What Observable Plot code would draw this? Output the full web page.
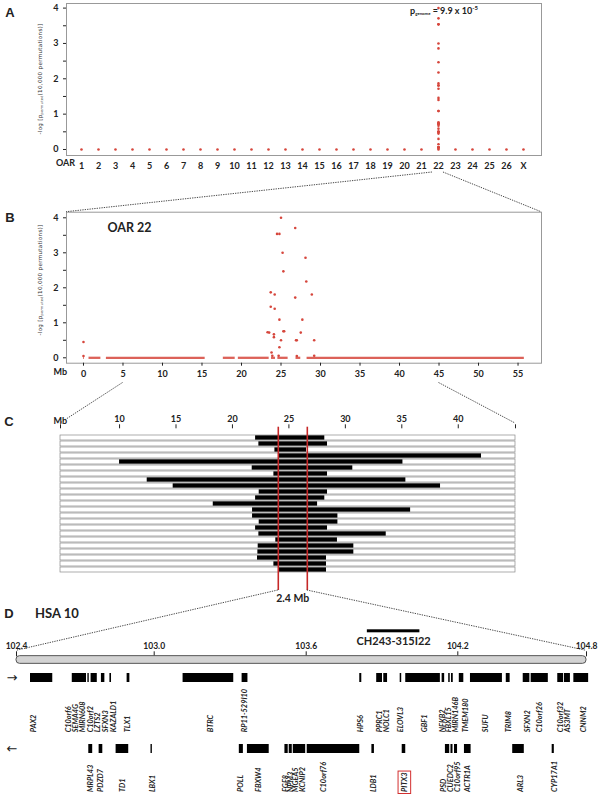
<!DOCTYPE html>
<html><head><meta charset="utf-8">
<script src="https://cdn.jsdelivr.net/npm/d3@7"></script>
<script src="https://cdn.jsdelivr.net/npm/@observablehq/plot@0.6"></script>
<style>
body{margin:0;background:#fff;}
#wrap{position:relative;width:601px;height:796px;overflow:hidden;background:#fff;}
#wrap > svg{position:absolute;left:0;}
</style></head><body><div id="wrap"></div>
<script>
// ---------------- DATA ----------------
const chromosomes = ["1","2","3","4","5","6","7","8","9","10","11","12","13","14","15","16","17","18","19","20","21","22","23","24","25","26","X"];
const peakChromosome = "22";
const pGenomeMantissa = "9.9", pGenomeExponent = "-5";
// OAR22 association points: [position Mb, -log p]
const oar22Points = [
[0.0,0.45],[0.0,0.05],
[23.3,0.73],[23.5,0.72],[23.7,1.87],[23.7,1.46],[23.8,0.15],[23.9,0.06],[24.1,0.67],[24.1,0.59],
[24.2,1.81],[24.2,1.40],[24.5,3.54],[24.7,0.06],[24.8,3.54],[24.8,1.09],[24.8,0.30],[25.0,4.0],
[25.0,0.50],[25.2,3.0],[25.3,2.47],[25.3,0.76],[25.4,0.76],[26.8,3.71],[26.8,1.72],[26.9,0.50],
[27.0,0.50],[27.0,0.05],[27.5,0.72],[27.7,1.09],[28.1,2.86],[28.2,2.18],[28.9,1.81],[29.2,0.50],[29.2,0.06]
];
// runs of markers with -log p = 0 : [from Mb, to Mb]
const zeroRuns = [[0,0.1],[0.7,2.2],[2.9,15.4],[17.7,19.2],[19.6,23.5],[23.8,24.3],[24.6,25.9],[26.9,27.5],[28.3,55.8]];
const oarTicksY = [0,0.5,1,1.5,2,2.5,3,3.5,4];
const oar22TicksX = [0,5,10,15,20,25,30,35,40,45,50,55];
// haplotypes: shared segment [start Mb, end Mb]
const haplotypes = [
[22.05,28.18],[22.34,28.42],[23.76,26.56],[24.1,42.06],[10.0,35.1],[21.75,30.66],[23.67,28.42],[12.45,35.36],
[14.75,38.43],[22.37,28.42],[22.05,28.18],[18.3,27.54],[21.78,35.78],[21.78,29.34],[22.37,29.34],[22.05,28.42],
[22.34,33.62],[23.84,29.3],[22.28,30.75],[22.25,30.75],[22.22,28.33],[23.67,28.33],[24.1,28.33]
];
const haploRange = [4.77,45.07];
const haploTicks = [10,15,20,25,30,35,40];
const criticalInterval = [24.06,26.63];
const intervalLabel = "2.4 Mb";
// HSA10
const hsaTicks = [102.4,103.0,103.6,104.2,104.8];
const hsaTickPx = [16,153.7,305.7,457.3,586];
const cloneName = "CH243-315I22";
const cloneSpan = [103.842,104.050];
const fwdGenes = [
[102.461,102.558],[102.643,102.705],[102.711,102.717],[102.725,102.752],[102.770,102.785],[102.807,102.814],
[102.882,102.894],[103.114,103.314],[103.347,103.370],[103.812,103.820],[103.879,103.902],[103.907,103.922],
[103.972,103.978],[103.994,104.131],[104.138,104.148],[104.164,104.170],[104.175,104.182],[104.207,104.228],
[104.259,104.408],[104.426,104.444],[104.505,104.536],[104.542,104.622],[104.666,104.693],[104.697,104.725],[104.741,104.810]
];
const revGenes = [
[102.715,102.732],[102.760,102.776],[102.834,102.889],[102.986,102.992],[103.336,103.352],[103.368,103.454],
[103.516,103.529],[103.533,103.545],[103.549,103.598],[103.604,103.812],[103.860,103.870],[103.980,103.994],
[104.151,104.168],[104.173,104.181],[104.187,104.199],[104.231,104.262],[104.456,104.510],[104.640,104.650]
];
const fwdLabels = [["PAX2",102.475],["C10orf6",102.628],["SEMA4G",102.657],["MIRN608",102.686],["C10orf2",102.722],
["LZTS2",102.754],["SFXN3",102.788],["KAZALD1",102.824],["TLX1",102.885],["BTRC",103.222],["RP11-529I10",103.358],
["HPS6",103.815],["PPRC1",103.890],["NOLC1",103.917],["ELOVL3",103.973],["GBF1",104.068],["NFKB2",104.138],
["FBXL15",104.164],["MIRN146B",104.192],["TMEM180",104.236],["SUFU",104.329],["TRIM8",104.438],["SFXN2",104.524],
["C10orf26",104.582],["C10orf32",104.679],["AS3MT",104.713],["CNNM2",104.785]];
const revLabels = [["MRPL43",102.722],["PDZD7",102.766],["TD1",102.861],["LBX1",102.991],["POLL",103.343],
["FBXW4",103.411],["FGF8",103.518],["NPM3",103.538],["MGEA5",103.558],["KCNIP2",103.584],["C10orf76",103.670],
["LDB1",103.867],["PITX3",103.989],["PSD",104.145],["CUEDC2",104.171],["C10orf95",104.198],["ACTR1A",104.247],
["ARL3",104.492],["CYP17A1",104.651]];
const highlightedGene = "PITX3";

// ---------------- LAYOUT ----------------
const red = "#d6463c";
const lineRed = "#c62828";
const W = 601;
const baseStyle = "background:transparent;overflow:visible;font-family:Lato,'Open Sans',sans-serif;font-size:9px;font-weight:bold;color:#222;max-width:none;";
const wrap = document.getElementById("wrap");
function place(svg, top){ svg.style.position="absolute"; svg.style.top=top+"px"; svg.style.left="0px"; wrap.appendChild(svg); return svg; }

const A_TOP = 0, B_TOP = 190, C_TOP = 400, D_TOP = 605;

// Panel A
const aData = chromosomes.map((c,i)=>({i:i+1, v:0}))
  .concat(oar22Points.map(d=>({i:chromosomes.indexOf(peakChromosome)+1, v:d[1]})));
const plotA = Plot.plot({
  width:W, height:185, marginLeft:66, marginRight:60, marginTop:3, marginBottom:30,
  style: baseStyle,
  x:{type:"linear", domain:[0.118,28.06]},
  y:{type:"linear", domain:[-0.17,4.13]},
  marks:[
    Plot.frame({stroke:"#999"}),
    Plot.axisX({ticks:d3.range(1,chromosomes.length+1), tickFormat:i=>chromosomes[i-1], tickSize:0, tickPadding:7, label:null}),
    Plot.axisY({ticks:oarTicksY, tickFormat:d=>d%1===0?d:"", tickSize:3, tickPadding:5, label:null}),
    Plot.text(["OAR"], {frameAnchor:"bottom-left", dx:-10.5, dy:10}),
    Plot.dot(aData, {x:"i", y:"v", r:1.3, fill:red, stroke:null})
  ]
});
place(plotA, A_TOP);

// Panel B
const plotB = Plot.plot({
  width:W, height:200, marginLeft:66, marginRight:60, marginTop:21.7, marginBottom:27.3,
  style: baseStyle,
  x:{type:"linear", domain:[-2.15,57.97]},
  y:{type:"linear", domain:[-0.154,4.16]},
  marks:[
    Plot.frame({stroke:"#999"}),
    Plot.axisX({ticks:oar22TicksX, tickSize:3, tickPadding:4, label:null}),
    Plot.axisY({ticks:oarTicksY, tickFormat:d=>d%1===0?d:"", tickSize:3, tickPadding:5, label:null}),
    Plot.ruleY(zeroRuns, {x1:d=>d[0], x2:d=>d[1], y:0, stroke:red, strokeWidth:2.3, strokeOpacity:0.85}),
    Plot.dot(oar22Points, {x:d=>d[0], y:d=>d[1], r:1.3, fill:red, stroke:null}),
    Plot.text(["OAR " + peakChromosome], {frameAnchor:"top-left", dx:41, dy:11, textAnchor:"start", fontSize:12.5, fontWeight:"bold"}),
    Plot.text(["Mb"], {frameAnchor:"bottom-left", dx:-13, dy:11.3})
  ]
});
place(plotB, B_TOP);

// Panel C
const rows = haplotypes.map((d,i)=>({row:i+1, start:d[0], end:d[1]}));
const plotC = Plot.plot({
  width:W, height:210, marginLeft:60, marginRight:86, marginTop:27.3, marginBottom:29.7,
  style: baseStyle,
  x:{type:"linear", domain:haploRange},
  y:{type:"band", domain:rows.map(d=>d.row), paddingInner:0.15, paddingOuter:0.08, axis:null},
  marks:[
    Plot.axisX({anchor:"top", ticks:haploTicks, tickSize:4, tickPadding:2, label:null}),
    Plot.axisX({anchor:"top", ticks:haploRange, tickFormat:()=>"", tickSize:4, label:null}),
    Plot.barX(rows, {x1:()=>haploRange[0], x2:()=>haploRange[1], y:"row", fill:"white", stroke:"#8a8a8a", strokeWidth:0.7}),
    Plot.barX(rows, {x1:"start", x2:"end", y:"row", fill:"black", insetTop:0.35, insetBottom:0.35}),
    Plot.ruleX(criticalInterval, {stroke:lineRed, strokeWidth:1.6, insetTop:-0.6, insetBottom:-9.7}),
    Plot.text([intervalLabel], {x:()=>(criticalInterval[0]+criticalInterval[1])/2, frameAnchor:"bottom", dy:20.7, fontSize:10.5, fontWeight:"bold"}),
    Plot.text(["Mb"], {frameAnchor:"top-left", dx:-7, dy:-10})
  ]
});
place(plotC, C_TOP);

// Panel D
const fwd = fwdGenes.map(d=>({s:d[0], e:d[1]}));
const rev = revGenes.map(d=>({s:d[0], e:d[1]}));
const plotD = Plot.plot({
  width:W, height:191, marginLeft:16, marginRight:15, marginTop:50.3, marginBottom:0,
  style: baseStyle,
  x:{type:"linear", domain:hsaTicks, range:hsaTickPx},
  y:{type:"band", domain:["fwd","rev"], range:[68.3,148.3], paddingInner:0.878, paddingOuter:0, axis:null},
  marks:[
    Plot.axisX({anchor:"top", ticks:hsaTicks, tickFormat:d=>d.toFixed(1), tickSize:5, tickPadding:2, label:null, fontSize:8.5}),
    Plot.barX([hsaTicks], {x1:d=>d[0], x2:d=>d[d.length-1], y:()=>"fwd", dy:-18, insetTop:0.65, insetBottom:0.65, fill:"#d3d3d3", stroke:"#555", strokeWidth:1, rx:3.5}),
    Plot.barX([cloneSpan], {x1:d=>d[0], x2:d=>d[1], y:()=>"fwd", dy:-46.7, insetTop:3, insetBottom:3, fill:"black"}),
    Plot.text([cloneName], {x:()=>(cloneSpan[0]+cloneSpan[1])/2, y:()=>"fwd", dy:-37, fontSize:11, fontWeight:"bold"}),
    Plot.barX(fwd, {x1:"s", x2:"e", y:()=>"fwd", fill:"black"}),
    Plot.barX(rev, {x1:"s", x2:"e", y:()=>"rev", fill:"black"}),
    Plot.text(["→"], {frameAnchor:"left", y:()=>"fwd", textAnchor:"end", dx:1, fontSize:13, fontFamily:"DejaVu Sans", fontWeight:"normal"}),
    Plot.text(["←"], {frameAnchor:"left", y:()=>"rev", textAnchor:"end", dx:1, fontSize:13, fontFamily:"DejaVu Sans", fontWeight:"normal"}),
    Plot.text(fwdLabels, {x:d=>d[1], y:()=>"fwd", text:d=>d[0], rotate:-90, textAnchor:"start", lineAnchor:"middle", dy:54.3, fontSize:7.4, fontStyle:"italic", fontWeight:"bold"}),
    Plot.text(revLabels, {x:d=>d[1], y:()=>"rev", text:d=>d[0], rotate:-90, textAnchor:"start", lineAnchor:"middle", dy:43, fontSize:7.4, fontStyle:"italic", fontWeight:"bold"})
  ]
});
place(plotD, D_TOP);

// ---------- text extras ----------
function yLabel(svg, x, y){
  const t = d3.select(svg).append("text")
    .attr("transform",`translate(${x},${y}) rotate(-90)`)
    .attr("text-anchor","middle").attr("font-family","'DejaVu Sans',sans-serif")
    .attr("font-size",5.6).attr("font-weight","normal").attr("fill","#333").attr("letter-spacing",0.3);
  t.append("tspan").text("-log [p");
  t.append("tspan").attr("font-size",3.4).attr("dy",1).text("permuted");
  t.append("tspan").attr("dy",-1).text("(10,000 permutations)]");
}
yLabel(plotA, 41.5, 79);
yLabel(plotB, 41.5, 90);

const xA = plotA.scale("x"), yA = plotA.scale("y");
const pIdx = chromosomes.indexOf(peakChromosome)+1;
{
  const t = d3.select(plotA).append("text").attr("x", xA.apply(pIdx)+6).attr("y", yA.apply(4)+6)
    .attr("font-family","Lato,sans-serif").attr("font-weight","bold").attr("font-size",9).attr("fill","#222");
  t.append("tspan").text("p");
  t.append("tspan").attr("font-size",4.3).attr("dy",1.5).text("genome");
  t.append("tspan").attr("dy",-1.5).text(" = " + pGenomeMantissa + " x 10");
  t.append("tspan").attr("font-size",6).attr("dy",-3.5).text(pGenomeExponent);
}

// PITX3 box
{
  const svgRect = plotD.getBoundingClientRect();
  d3.select(plotD).selectAll("text").each(function(){
    if (this.textContent === highlightedGene) {
      const r = this.getBoundingClientRect();
      d3.select(plotD).append("rect")
        .attr("x", r.left - svgRect.left - 1.8).attr("y", r.top - svgRect.top - 1.5)
        .attr("width", r.width + 3.6).attr("height", r.height + 3)
        .attr("fill","none").attr("stroke","#d32f2f").attr("stroke-width",1);
    }
  });
}

// ---------- overlay: connectors & panel letters ----------
const xB = plotB.scale("x"), xC = plotC.scale("x"), xD = plotD.scale("x");
const ov = d3.select(wrap).append("svg").attr("width",W).attr("height",796)
  .style("position","absolute").style("top","0px").style("left","0px").style("overflow","visible");
const conn = [
  [xA.apply(pIdx)-6, 172, 66, B_TOP+21.7],
  [xA.apply(pIdx)+5, 172, W-60, B_TOP+21.7],
  [xB.apply(5), 382.5, xC.apply(haploRange[0]), C_TOP+23],
  [xB.apply(45), 382.5, xC.apply(haploRange[1]), C_TOP+23],
  [xC.apply(criticalInterval[0]), 590, xD.apply(hsaTicks[0]), D_TOP+45.3],
  [xC.apply(criticalInterval[1]), 590, xD.apply(hsaTicks[hsaTicks.length-1]), D_TOP+45.3]
];
ov.selectAll("line.c").data(conn).join("line")
  .attr("x1",d=>d[0]).attr("y1",d=>d[1]).attr("x2",d=>d[2]).attr("y2",d=>d[3])
  .attr("stroke","#333").attr("stroke-width",0.9).attr("stroke-dasharray","1.3 1.1");
const letters = [["A",10,17],["B",10,222],["C",9,425.5],["D",9,617.5]];
ov.selectAll("text.l").data(letters).join("text")
  .attr("x",d=>d[1]).attr("y",d=>d[2]).attr("text-anchor","middle")
  .attr("font-family","'Liberation Sans',Arial,sans-serif").attr("font-weight","bold").attr("font-size",13).attr("fill","#222")
  .text(d=>d[0]);
ov.append("text").attr("x",35).attr("y",617.5).attr("font-family","Lato,sans-serif").attr("font-weight","bold")
  .attr("font-size",13).attr("fill","#222").text("HSA 10");
</script></body></html>
